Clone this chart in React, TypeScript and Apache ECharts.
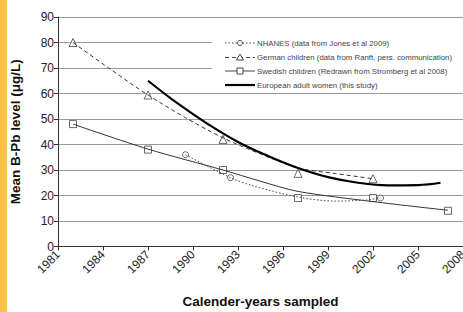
import React, { useEffect, useRef } from "react";
import * as echarts from "echarts";

const X0 = 1981;
const xTicksMax = 27;

const germanYears = [1982, 1987, 1992, 1997, 2002];
const germanValues = [80, 59.4, 42, 28.7, 26.6];
const germanCurveYears = [1982, 1984.5, 1987, 1989.5, 1992, 1994.5, 1997, 1999.5, 2002];
const germanCurveValues = [80, 69.5, 59.4, 50.5, 42.6, 36.3, 30.8, 28.6, 26.6];

const swedishYears = [1982, 1987, 1992, 1997, 2002, 2007];
const swedishValues = [48, 38, 30, 19, 19, 14];
const swedishCurveYears = [1982, 1987, 1992, 1994.5, 1997, 2002, 2007];
const swedishCurveValues = [48, 38.2, 30, 25.6, 21.6, 17.6, 14.2];

const nhanesYears = [1989.5, 1992.5, 2002.5];
const nhanesValues = [36, 27, 19];
const nhanesCurveYears = [1989.5, 1992.5, 1994, 1997, 1999.5, 2001.5, 2002.5];
const nhanesCurveValues = [36, 27, 23.8, 19.4, 17.8, 18.2, 19];

const europeCurveYears = [1987, 1989, 1991, 1993, 1995, 1997, 1999, 2001, 2003, 2005, 2006.5];
const europeCurveValues = [65, 56, 48, 41, 35.5, 30.8, 27.2, 25, 24, 24.1, 25];

const legendNames = [
  "NHANES (data from Jones et al 2009)",
  "German children (data from Ranft, pers. communication)",
  "Swedish children (Redrawn from Stromberg et al 2008)",
  "European adult women (this study)",
];

const xAxisTitle = "Calender-years sampled";
const yAxisTitle = "Mean B-Pb level (\u03bcg/L)";

const pairs = (xs: number[], ys: number[]) => xs.map((x, i) => [x - X0, ys[i]]);

export default function App() {
  const ref = useRef<HTMLDivElement>(null);
  useEffect(() => {
    if (!ref.current) return;
    const chart = echarts.init(ref.current, null, { renderer: "svg" });
    const font = "Arial, 'Liberation Sans', Helvetica, sans-serif";
    const ink = "#333";
    const rows = [43, 57.5, 71, 85];
    const lx1 = 225;
    const lx2 = 255;
    const mx = 240;
    const legendEls: any[] = [
      { type: "rect", z: 1, shape: { x: 212, y: 24, width: 251, height: 67 }, style: { fill: "#fff" } },
      { type: "line", z: 2, shape: { x1: lx1, y1: rows[0], x2: lx2, y2: rows[0] }, style: { stroke: "#444", lineWidth: 1, lineDash: [1.5, 2] } },
      { type: "circle", z: 3, shape: { cx: mx, cy: rows[0], r: 2.5 }, style: { fill: "#fff", stroke: "#444", lineWidth: 1 } },
      { type: "line", z: 2, shape: { x1: lx1, y1: rows[1], x2: lx2, y2: rows[1] }, style: { stroke: "#444", lineWidth: 1, lineDash: [4, 3] } },
      { type: "polygon", z: 3, shape: { points: [[mx, rows[1] - 3.5], [mx + 3.5, rows[1] + 2.5], [mx - 3.5, rows[1] + 2.5]] }, style: { fill: "#fff", stroke: "#444", lineWidth: 1 } },
      { type: "line", z: 2, shape: { x1: lx1, y1: rows[2], x2: lx2, y2: rows[2] }, style: { stroke: "#444", lineWidth: 1 } },
      { type: "rect", z: 3, shape: { x: mx - 3, y: rows[2] - 3, width: 6, height: 6 }, style: { fill: "#fff", stroke: "#444", lineWidth: 1 } },
      { type: "line", z: 2, shape: { x1: lx1, y1: rows[3], x2: lx2, y2: rows[3] }, style: { stroke: "#000", lineWidth: 2.2 } },
    ];
    legendNames.forEach((n, i) => {
      legendEls.push({
        type: "text",
        z: 3,
        x: 257,
        y: rows[i],
        style: { text: n, fontSize: 7.8, fontFamily: font, fill: "#444", verticalAlign: "middle", align: "left" },
      });
    });

    chart.setOption({
      animation: false,
      backgroundColor: "#fff",
      textStyle: { fontFamily: font },
      grid: { left: 58, right: 0, top: 17, bottom: 65.5, containLabel: false, outerBoundsMode: "none" },
      xAxis: {
        type: "value",
        min: 0,
        max: xTicksMax,
        interval: 3,
        axisLine: { show: true, lineStyle: { color: ink, width: 1 } },
        axisTick: { show: true, length: 4, lineStyle: { color: ink } },
        splitLine: { show: false },
        axisLabel: {
          formatter: (v: number) => String(v + X0),
          rotate: 45,
          fontSize: 12,
          color: "#222",
          margin: 6,
          showMaxLabel: true,
          showMinLabel: true,
        },
        name: xAxisTitle,
        nameLocation: "middle",
        nameGap: 48,
        nameTextStyle: { fontSize: 13.5, fontWeight: "bold", color: "#111" },
      },
      yAxis: {
        type: "value",
        min: 0,
        max: 90,
        interval: 10,
        axisLine: { show: true, lineStyle: { color: ink, width: 1 } },
        axisTick: { show: true, length: 4, lineStyle: { color: ink } },
        splitLine: { show: true, lineStyle: { color: "#999", width: 1.2 } },
        axisLabel: { fontSize: 12, color: "#222", margin: 4 },
        name: yAxisTitle,
        nameLocation: "middle",
        nameGap: 36,
        nameRotate: 90,
        nameTextStyle: { fontSize: 13.5, fontWeight: "bold", color: "#111" },
      },
      graphic: [
        { type: "rect", z: 5, shape: { x: 0, y: 0, width: 7, height: 312 }, style: { fill: "#FCC34A" } },
        ...legendEls,
      ],
      series: [
        {
          type: "line",
          name: "German curve",
          data: pairs(germanCurveYears, germanCurveValues),
          smooth: 0.3,
          symbol: "none",
          lineStyle: { color: "#333", width: 1, type: [4, 3] },
        },
        {
          type: "line",
          name: "Swedish curve",
          data: pairs(swedishCurveYears, swedishCurveValues),
          smooth: 0.3,
          symbol: "none",
          lineStyle: { color: "#333", width: 1 },
        },
        {
          type: "line",
          name: "NHANES curve",
          data: pairs(nhanesCurveYears, nhanesCurveValues),
          smooth: 0.3,
          symbol: "none",
          lineStyle: { color: "#444", width: 1, type: [1.5, 2] },
        },
        {
          type: "line",
          name: "European curve",
          data: pairs(europeCurveYears, europeCurveValues),
          smooth: 0.4,
          symbol: "none",
          lineStyle: { color: "#000", width: 2.2 },
        },
        {
          type: "scatter",
          name: "German",
          data: pairs(germanYears, germanValues),
          symbol: "triangle",
          symbolSize: 8,
          itemStyle: { color: "#fff", borderColor: "#444", borderWidth: 1 },
        },
        {
          type: "scatter",
          name: "Swedish",
          data: pairs(swedishYears, swedishValues),
          symbol: "rect",
          symbolSize: 7,
          itemStyle: { color: "#fff", borderColor: "#444", borderWidth: 1 },
        },
        {
          type: "scatter",
          name: "NHANES",
          data: pairs(nhanesYears, nhanesValues),
          symbol: "circle",
          symbolSize: 6,
          itemStyle: { color: "#fff", borderColor: "#444", borderWidth: 1 },
        },
      ],
    });
    return () => chart.dispose();
  }, []);
  return (
    <div
      ref={ref}
      style={{ position: "fixed", left: 0, top: 0, width: 463, height: 312, background: "#fff" }}
    />
  );
}
